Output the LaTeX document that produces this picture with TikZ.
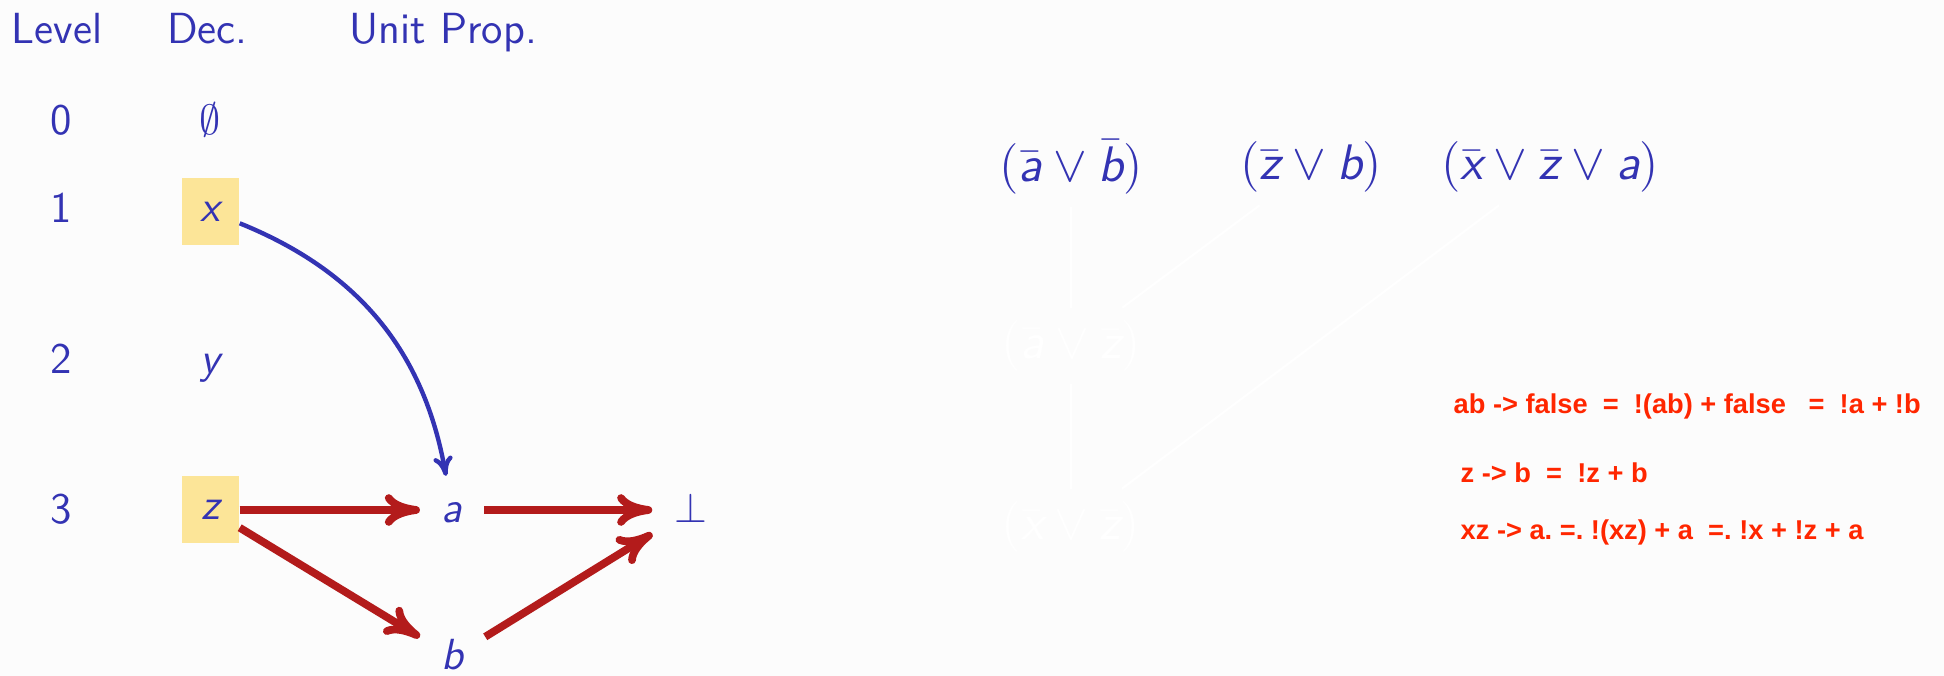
\documentclass[tikz,border=0pt]{standalone}
\usepackage{fontspec}
\newfontfamily\notefont{Liberation Sans}
\usetikzlibrary{arrows.meta, positioning}
\definecolor{beamerblue}{HTML}{3333B3}
\definecolor{propred}{HTML}{B31B1B}
\definecolor{decyellow}{HTML}{FCE598}
\definecolor{notered}{HTML}{FF2600}
\definecolor{slidebg}{HTML}{FCFCFC}
% literais em sans italico, como no beamer
\newcommand{\lit}[1]{\mbox{\sffamily\itshape #1}}
\newcommand{\nlit}[1]{\bar{\lit{#1}}}

\begin{document}
\begin{tikzpicture}[
    txt/.style={font=\fontsize{12.4}{14}\selectfont\sffamily, text=beamerblue},
    head/.style={txt, anchor=base west, inner sep=0pt},
    levelnum/.style={txt, anchor=base, inner sep=0pt},
    decbox/.style={txt, fill=decyellow, minimum width=0.57cm, minimum height=0.67cm, inner sep=0pt},
    litnode/.style={txt, inner sep=6pt, text height=0.7em, text depth=0pt},
    clause/.style={font=\fontsize{14.2}{16}\selectfont\sffamily, text=beamerblue, inner sep=3.5pt},
    hiddenclause/.style={clause, text=white},
    wire/.style={white, line width=0.6pt},
    prop/.style={propred, line width=2.2pt, -{To[length=10pt, width=9pt, round]}},
    impl/.style={beamerblue, line width=1.25pt, -{To[length=5.5pt, width=5.5pt]}},
    note/.style={font=\fontsize{7.75}{9}\selectfont\notefont\bfseries\frenchspacing, text=notered, anchor=base west, inner sep=0pt},
]
    \fill[slidebg] (0,0) rectangle (19.44,6.76);
    \useasboundingbox (0,0) rectangle (19.44,6.76);

    % cabecalho
    \node[head] (hlevel) at (0.11,6.32) {Level};
    \node[head] (hdec) at (1.665,6.32) {Dec.};
    \node[head] (hprop) at (3.49,6.32) {Unit Prop.};

    % niveis e decisoes
    \node[levelnum] (l0) at (0.61,5.41) {0};
    \node[levelnum] (l1) at (0.61,4.53) {1};
    \node[levelnum] (l2) at (0.61,3.02) {2};
    \node[levelnum] (l3) at (0.61,1.52) {3};

    \node[levelnum] (d0) at (2.105,5.41) {$\emptyset$};
    \node[decbox] (x) at (2.105,4.645) {\lit{x}};
    \node[levelnum] (y) at (2.105,3.02) {\lit{y}};
    \node[decbox] (z) at (2.105,1.66) {\lit{z}};

    \node[litnode] (a) at (4.52,1.66) {\lit{a}};
    \node[litnode] (bot) at (6.905,1.66) {$\bot$};
    \node[litnode] (b) at (4.525,0.19) {\lit{b}};

    \draw[impl] (x) to[out=-22, in=100] (a);
    \draw[prop] (z) -- (a);
    \draw[prop] (z) -- (b);
    \draw[prop] (a) -- (bot);
    \draw[prop] (b) -- (bot);

    % clausulas e resolucao (em branco)
    \node[clause] (c1) at (10.71,5.09) {$(\nlit{a} \vee \nlit{b})$};
    \node[clause] (c2) at (13.11,5.09) {$(\nlit{z} \vee \lit{b})$};
    \node[clause] (c3) at (15.50,5.09) {$(\nlit{x} \vee \nlit{z} \vee \lit{a})$};
    \node[hiddenclause] (r1) at (10.71,3.30) {$(\nlit{a} \vee \nlit{z})$};
    \node[hiddenclause] (r2) at (10.71,1.49) {$(\nlit{x} \vee \nlit{z})$};

    \draw[wire] (c1) -- (r1);
    \draw[wire] (c2) -- (r1);
    \draw[wire] (r1) -- (r2);
    \draw[wire] (c3) -- (r2);

    \node[note] (n1) at (14.53,2.62) {ab -> false\ \ =\ \ !(ab) + false\ \ \ =\ \ !a + !b};
    \node[note] (n2) at (14.60,1.93) {z -> b\ \ =\ \ !z + b};
    \node[note] (n3) at (14.60,1.36) {xz -> a. =. !(xz) + a\ \ =. !x + !z + a};
\end{tikzpicture}
\end{document}
